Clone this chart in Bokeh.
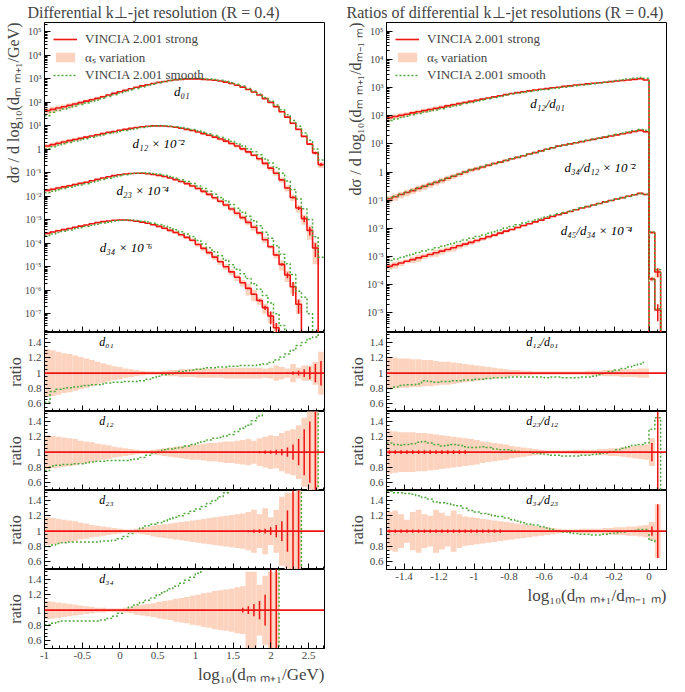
import numpy as np
from bokeh.plotting import figure
from bokeh.layouts import column, row
from bokeh.models import (FixedTicker, Title, Legend, LegendItem, Range1d, Span,
                          CustomJSTickFormatter)
from bokeh.core.properties import value
from bokeh.embed import file_html
from bokeh.resources import INLINE

FONT = "Liberation Serif"
RED = "#f01414"
GREEN = "#4fa83a"
PINK = "#fcd3be"

# ---------------- binning ----------------
left_edges = np.linspace(-1.0, 2.7, 51)     # log10(d_{m m+1}/GeV)
right_edges = np.linspace(-1.5, 0.1, 49)    # log10(d_{m m+1}/d_{m-1 m})

# ---------------- left: differential distributions (log10 of value, strong) ----------------
left_d01_log = [1.64, 1.70, 1.76, 1.81, 1.87, 1.93, 1.99, 2.05, 2.11, 2.17,
                2.24, 2.31, 2.38, 2.45, 2.51, 2.58, 2.64, 2.70, 2.75, 2.80,
                2.85, 2.89, 2.93, 2.96, 2.98, 3.00, 3.00, 3.00, 2.98, 2.96,
                2.94, 2.91, 2.86, 2.80, 2.73, 2.65, 2.55, 2.44, 2.31, 2.16,
                2.00, 1.82, 1.60, 1.37, 1.11, 0.85, 0.55, 0.22, -0.15, -0.65]
left_d12_log = [0.14, 0.20, 0.26, 0.31, 0.37, 0.42, 0.47, 0.52, 0.57, 0.62,
                0.67, 0.72, 0.76, 0.81, 0.85, 0.89, 0.93, 0.96, 0.98, 1.00,
                1.00, 0.99, 0.97, 0.94, 0.90, 0.85, 0.80, 0.74, 0.67, 0.60,
                0.52, 0.44, 0.35, 0.25, 0.14, 0.02, -0.11, -0.25, -0.40, -0.60,
                -0.80, -1.02, -1.30, -1.65, -2.05, -2.50, -2.95, -3.45, -4.20, None]
left_d23_log = [-1.75, -1.70, -1.65, -1.60, -1.55, -1.50, -1.45, -1.40, -1.34, -1.28,
                -1.22, -1.17, -1.12, -1.08, -1.05, -1.03, -1.02, -1.02, -1.04, -1.07,
                -1.11, -1.16, -1.22, -1.29, -1.37, -1.46, -1.56, -1.67, -1.79, -1.92,
                -2.06, -2.21, -2.37, -2.54, -2.72, -2.91, -3.11, -3.32, -3.56, -3.85,
                -4.15, -4.50, -4.90, -5.35, -5.85, -6.60, None, None, None, None]
left_d34_log = [-3.58, -3.52, -3.47, -3.42, -3.37, -3.32, -3.27, -3.22, -3.17, -3.12,
                -3.08, -3.05, -3.02, -3.01, -3.01, -3.03, -3.06, -3.10, -3.15, -3.21,
                -3.28, -3.36, -3.45, -3.54, -3.64, -3.75, -3.87, -4.05, -4.22, -4.40,
                -4.59, -4.79, -5.00, -5.22, -5.45, -5.68, -5.92, -6.17, -6.44, -6.74,
                -7.10, -7.60, None, None, None, None, None, None, None, None]

# smooth / strong ratios (left)
left_r_d01 = [0.62, 0.76, 0.79, 0.80, 0.81, 0.82, 0.83, 0.84, 0.85, 0.85,
              0.86, 0.87, 0.88, 0.88, 0.89, 0.89, 0.89, 0.90, 0.92, 0.94,
              0.96, 0.98, 0.99, 1.01, 1.02, 1.03, 1.04, 1.05, 1.06, 1.07,
              1.07, 1.08, 1.08, 1.09, 1.09, 1.10, 1.10, 1.10, 1.11, 1.12,
              1.14, 1.17, 1.21, 1.25, 1.30, 1.36, 1.40, 1.45, 1.47, 1.58]
left_r_d12 = [0.76, 0.82, 0.83, 0.84, 0.84, 0.85, 0.85, 0.86, 0.87, 0.88,
              0.88, 0.89, 0.89, 0.89, 0.89, 0.90, 0.91, 0.93, 0.96, 0.99,
              1.01, 1.03, 1.04, 1.05, 1.06, 1.08, 1.10, 1.12, 1.14, 1.16,
              1.18, 1.19, 1.21, 1.23, 1.27, 1.31, 1.35, 1.41, 1.47, 1.55,
              1.65, 1.75, 1.90, 2.00, 2.20, 2.40, 2.60, 2.90, 3.00, 0.0]
left_r_d23 = [0.80, 0.82, 0.84, 0.85, 0.86, 0.86, 0.86, 0.86, 0.86, 0.86,
              0.87, 0.87, 0.88, 0.90, 0.93, 0.97, 1.00, 1.04, 1.07, 1.09,
              1.11, 1.13, 1.16, 1.18, 1.20, 1.23, 1.26, 1.29, 1.32, 1.36,
              1.40, 1.45, 1.50, 1.56, 1.62, 1.70, 1.80, 1.90, 2.00, 2.10,
              2.30, 2.50, 2.70, 3.00, 3.30, 3.60, 0.0, None, None, None]
left_r_d34 = [0.81, 0.83, 0.85, 0.86, 0.86, 0.86, 0.86, 0.86, 0.86, 0.86,
              0.87, 0.89, 0.92, 0.96, 1.00, 1.04, 1.07, 1.10, 1.13, 1.16,
              1.20, 1.24, 1.28, 1.31, 1.35, 1.39, 1.43, 1.48, 1.54, 1.60,
              1.70, 1.80, 1.90, 2.00, 2.20, 2.40, 2.60, 2.80, 3.00, 3.30,
              3.60, 4.00, 0.0, None, None, None, None, None, None, None]

# smooth values (log10) where strong is empty: (first bin, values)
left_d12_smooth_tail = (49, [-4.60])
left_d23_smooth_tail = (46, [-6.30, -7.00])
left_d34_smooth_tail = (42, [-7.50, -7.80])

# alpha_s variation half-widths (relative)
left_hw_d01 = [0.31, 0.30, 0.28, 0.26, 0.25, 0.23, 0.21, 0.19, 0.17, 0.15,
               0.13, 0.11, 0.09, 0.08, 0.06, 0.05, 0.04, 0.03, 0.02, 0.02,
               0.02, 0.03, 0.04, 0.04, 0.05, 0.05, 0.05, 0.06, 0.06, 0.06,
               0.06, 0.06, 0.07, 0.07, 0.07, 0.07, 0.07, 0.07, 0.07, 0.06,
               0.07, 0.10, 0.08, 0.06, 0.12, 0.07, 0.10, 0.10, 0.15, 0.28]
left_hw_d12 = [0.22, 0.21, 0.20, 0.19, 0.18, 0.17, 0.15, 0.14, 0.13, 0.11,
               0.10, 0.09, 0.07, 0.06, 0.05, 0.04, 0.03, 0.02, 0.02, 0.03,
               0.04, 0.05, 0.06, 0.07, 0.08, 0.09, 0.10, 0.10, 0.11, 0.12,
               0.12, 0.13, 0.14, 0.14, 0.15, 0.16, 0.17, 0.15, 0.18, 0.20,
               0.22, 0.21, 0.25, 0.28, 0.30, 0.35, 0.45, 0.60, 0.80, None]
left_hw_d23 = [0.18, 0.17, 0.16, 0.15, 0.14, 0.13, 0.11, 0.10, 0.08, 0.07,
               0.06, 0.05, 0.04, 0.03, 0.02, 0.02, 0.03, 0.04, 0.05, 0.07,
               0.08, 0.09, 0.10, 0.11, 0.12, 0.13, 0.14, 0.15, 0.16, 0.17,
               0.18, 0.19, 0.20, 0.21, 0.22, 0.23, 0.25, 0.28, 0.22, 0.30,
               0.18, 0.28, 0.45, 0.50, 0.50, 0.60, None, None, None, None]
left_hw_d34 = [0.12, 0.11, 0.10, 0.09, 0.08, 0.07, 0.06, 0.05, 0.04, 0.03,
               0.03, 0.02, 0.02, 0.02, 0.03, 0.04, 0.06, 0.07, 0.08, 0.09,
               0.11, 0.12, 0.13, 0.15, 0.16, 0.17, 0.19, 0.20, 0.22, 0.23,
               0.25, 0.26, 0.27, 0.28, 0.30, 0.31, 0.50, 0.50, 0.33, 0.45,
               0.50, 0.50, None, None, None, None, None, None, None, None]

# statistical errors (relative)
left_err_d01 = [0, 0, 0, 0, 0, 0, 0, 0, 0, 0,
                0, 0, 0, 0, 0, 0, 0, 0, 0, 0,
                0, 0, 0, 0, 0, 0, 0, 0, 0, 0,
                0, 0, 0, 0, 0, 0, 0, 0, 0, 0,
                0, 0, 0, 0.01, 0.02, 0.03, 0.05, 0.08, 0.12, 0.16]
left_err_d12 = [0, 0, 0, 0, 0, 0, 0, 0, 0, 0,
                0, 0, 0, 0, 0, 0, 0, 0, 0, 0,
                0, 0, 0, 0, 0, 0, 0, 0, 0, 0,
                0, 0, 0, 0, 0, 0, 0.01, 0.01, 0.015, 0.02,
                0.02, 0.03, 0.04, 0.06, 0.10, 0.17, 0.30, 0.40, 0.60, None]
left_err_d23 = [0, 0, 0, 0, 0, 0, 0, 0, 0, 0,
                0, 0, 0, 0, 0, 0, 0, 0, 0, 0,
                0, 0, 0, 0, 0, 0, 0, 0, 0, 0,
                0, 0, 0, 0, 0, 0.01, 0.015, 0.02, 0.025, 0.03,
                0.05, 0.08, 0.13, 0.27, 0.60, 0.60, None, None, None, None]
left_err_d34 = [0, 0, 0, 0, 0, 0, 0, 0, 0, 0,
                0, 0, 0, 0, 0, 0, 0, 0, 0, 0,
                0, 0, 0, 0, 0, 0, 0, 0, 0, 0,
                0, 0, 0, 0, 0, 0.03, 0.05, 0.08, 0.12, 0.20,
                0.55, 0.60, None, None, None, None, None, None, None, None]

# ---------------- right: ratios of resolutions (log10 of value, strong) ----------------
right_d12_d01_log = [1.93, 1.97, 2.01, 2.05, 2.10, 2.14, 2.18, 2.22, 2.26, 2.30,
                     2.35, 2.39, 2.43, 2.47, 2.51, 2.55, 2.59, 2.63, 2.67, 2.71,
                     2.75, 2.79, 2.82, 2.85, 2.88, 2.91, 2.94, 2.96, 2.99, 3.01,
                     3.04, 3.06, 3.09, 3.11, 3.13, 3.15, 3.17, 3.19, 3.21, 3.23,
                     3.25, 3.27, 3.29, 3.31, 3.27, None, None, None]
right_d34_d12_log = [-0.95, -0.88, -0.80, -0.73, -0.66, -0.58, -0.51, -0.44, -0.37, -0.30,
                     -0.22, -0.15, -0.08, 0.00, 0.07, 0.12, 0.18, 0.24, 0.30, 0.35,
                     0.41, 0.47, 0.52, 0.58, 0.64, 0.69, 0.75, 0.81, 0.86, 0.92,
                     0.96, 1.00, 1.04, 1.08, 1.12, 1.16, 1.20, 1.24, 1.28, 1.32,
                     1.36, 1.40, 1.44, 1.48, 1.43, -3.80, -4.90, None]
right_d45_d34_log = [-3.35, -3.29, -3.23, -3.17, -3.11, -3.05, -2.99, -2.93, -2.87, -2.81,
                     -2.75, -2.69, -2.62, -2.56, -2.50, -2.43, -2.37, -2.30, -2.24, -2.17,
                     -2.10, -2.04, -1.97, -1.90, -1.84, -1.77, -1.71, -1.64, -1.58, -1.52,
                     -1.46, -1.40, -1.34, -1.28, -1.23, -1.17, -1.12, -1.06, -1.01, -0.96,
                     -0.91, -0.86, -0.81, -0.76, -0.80, -2.15, -3.55, None]

# smooth / strong in the main right panel
right_ms_d34_d12 = [1.06, 1.05, 1.05, 1.04, 1.05, 1.04, 1.04, 1.03, 1.04, 1.03,
                    1.03, 1.02, 1.03, 1.02, 1.02, 1.02, 1.01, 1.02, 1.01, 1.01,
                    1.01, 1.00, 1.01, 1.00, 1.00, 1.00, 0.99, 1.00, 0.99, 0.99,
                    0.99, 1.00, 1.00, 1.01, 1.01, 1.02, 1.02, 1.03, 1.03, 1.04,
                    1.05, 1.06, 1.07, 1.08, 1.12, 1.00, 1.10, None]
right_ms_d45_d34 = [1.60, 1.58, 1.57, 1.56, 1.55, 1.54, 1.52, 1.51, 1.50, 1.48,
                    1.46, 1.45, 1.43, 1.41, 1.40, 1.38, 1.36, 1.34, 1.32, 1.30,
                    1.28, 1.26, 1.24, 1.22, 1.20, 1.17, 1.15, 1.13, 1.10, 1.08,
                    1.06, 1.04, 1.03, 1.02, 1.01, 1.00, 1.00, 1.00, 1.00, 0.99,
                    0.99, 0.99, 1.00, 1.00, 1.02, 1.05, 1.20, None]

# ratio panels (right)
right_r_12_01 = [0.80, 0.82, 0.84, 0.85, 0.85, 0.86, 0.90, 0.89, 0.88, 0.89,
                 0.89, 0.90, 0.90, 0.91, 0.91, 0.92, 0.92, 0.93, 0.94, 0.94,
                 0.94, 0.95, 0.95, 0.95, 0.95, 0.95, 0.95, 0.94, 0.95, 0.95,
                 0.94, 0.94, 0.94, 0.95, 0.95, 0.96, 0.98, 1.00, 1.02, 1.04,
                 1.06, 1.08, 1.10, 1.12, 1.15, None, None, None]
right_r_23_12 = [1.12, 1.10, 1.09, 1.10, 1.11, 1.13, 1.14, 1.12, 1.10, 1.08,
                 1.09, 1.10, 1.09, 1.07, 1.06, 1.06, 1.07, 1.06, 1.04, 1.03,
                 1.03, 1.02, 1.01, 1.00, 1.00, 0.99, 0.98, 0.97, 0.96, 0.96,
                 0.95, 0.95, 0.95, 0.96, 0.96, 0.97, 0.98, 0.99, 1.01, 1.03,
                 1.05, 1.07, 1.09, 1.10, 1.12, 1.30, 1.45, 0.0]
right_r_34_23 = [1.52, 1.50, 1.50, 1.49, 1.48, 1.46, 1.44, 1.42, 1.38, 1.37,
                 1.36, 1.34, 1.33, 1.30, 1.27, 1.25, 1.23, 1.22, 1.20, 1.19,
                 1.17, 1.15, 1.13, 1.11, 1.09, 1.08, 1.06, 1.04, 1.02, 1.00,
                 0.99, 0.98, 0.97, 0.96, 0.96, 0.95, 0.95, 0.96, 0.97, 0.98,
                 0.99, 1.00, 1.01, 1.02, 1.02, 0.88, 0.85, None]

right_hw_12_01 = [0.20, 0.20, 0.19, 0.19, 0.18, 0.18, 0.17, 0.17, 0.16, 0.15,
                  0.15, 0.14, 0.13, 0.12, 0.11, 0.10, 0.09, 0.08, 0.07, 0.06,
                  0.05, 0.04, 0.04, 0.03, 0.03, 0.02, 0.02, 0.02, 0.02, 0.02,
                  0.02, 0.02, 0.02, 0.02, 0.03, 0.03, 0.03, 0.04, 0.04, 0.04,
                  0.05, 0.05, 0.05, 0.06, 0.06, None, None, None]
right_hw_23_12 = [0.28, 0.27, 0.26, 0.26, 0.26, 0.25, 0.25, 0.24, 0.23, 0.22,
                  0.21, 0.20, 0.19, 0.18, 0.17, 0.16, 0.14, 0.13, 0.12, 0.11,
                  0.10, 0.08, 0.07, 0.06, 0.05, 0.04, 0.03, 0.02, 0.02, 0.02,
                  0.02, 0.02, 0.03, 0.03, 0.03, 0.03, 0.04, 0.04, 0.05, 0.05,
                  0.06, 0.07, 0.08, 0.09, 0.10, 0.18, None, None]
right_hw_34_23 = [0.25, 0.27, 0.22, 0.15, 0.25, 0.28, 0.22, 0.20, 0.28, 0.24,
                  0.20, 0.27, 0.22, 0.19, 0.18, 0.17, 0.16, 0.15, 0.14, 0.13,
                  0.12, 0.11, 0.10, 0.09, 0.08, 0.07, 0.06, 0.05, 0.04, 0.03,
                  0.02, 0.02, 0.02, 0.03, 0.03, 0.03, 0.03, 0.04, 0.04, 0.05,
                  0.05, 0.06, 0.06, 0.07, 0.08, 0.12, 0.35, None]

right_err_12_01 = [0, 0, 0, 0, 0, 0, 0, 0, 0, 0,
                   0, 0, 0, 0, 0, 0, 0, 0, 0, 0,
                   0, 0, 0, 0, 0, 0, 0, 0, 0, 0,
                   0, 0, 0, 0, 0, 0, 0, 0, 0, 0,
                   0, 0, 0, 0, 0, None, None, None]
right_err_23_12 = [0.025, 0.025, 0.025, 0.025, 0.025, 0.025, 0.025, 0.025, 0.025, 0.025,
                   0.025, 0.025, 0.025, 0.025, 0, 0, 0, 0, 0, 0,
                   0, 0, 0, 0, 0, 0, 0, 0, 0, 0,
                   0, 0, 0, 0, 0, 0, 0, 0, 0, 0,
                   0, 0, 0, 0, 0, 0.12, 0.60, None]
right_err_34_23 = [0.02, 0.02, 0.02, 0.02, 0.02, 0.02, 0.02, 0.02, 0.02, 0.02,
                   0.02, 0.02, 0.02, 0.02, 0.02, 0.02, 0.02, 0.02, 0.02, 0.02,
                   0, 0, 0, 0, 0, 0, 0, 0, 0, 0,
                   0, 0, 0, 0, 0, 0, 0, 0, 0, 0,
                   0, 0, 0, 0, 0, 0.06, 0.35, None]

# ---------------- texts & ticks ----------------
LEFT_TITLE = "Differential k⊥-jet resolution (R = 0.4)"
RIGHT_TITLE = "Ratios of differential k⊥-jet resolutions (R = 0.4)"
LEFT_YLABEL = "dσ / d log₁₀(dₘ ₘ₊₁/GeV)"
RIGHT_YLABEL = "dσ / d log₁₀(dₘ ₘ₊₁/dₘ₋₁ ₘ)"
LEFT_XLABEL = "log₁₀(dₘ ₘ₊₁/GeV)"
RIGHT_XLABEL = "log₁₀(dₘ ₘ₊₁/dₘ₋₁ ₘ)"
RATIO_LABEL = "ratio"
LEGEND_LABELS = ["VINCIA 2.001 strong", "αₛ variation", "VINCIA 2.001 smooth"]
LEFT_MAIN_TAGS = ["d₀₁", "d₁₂ × 10⁻²", "d₂₃ × 10⁻⁴", "d₃₄ × 10⁻⁶"]
RIGHT_MAIN_TAGS = ["d₁₂/d₀₁", "d₃₄/d₁₂ × 10⁻²", "d₄₅/d₃₄ × 10⁻⁴"]
LEFT_RATIO_TAGS = ["d₀₁", "d₁₂", "d₂₃", "d₃₄"]
RIGHT_RATIO_TAGS = ["d₁₂/d₀₁", "d₂₃/d₁₂", "d₃₄/d₂₃"]

LEFT_MAIN_Y_TICKS = [1e-7, 1e-6, 1e-5, 1e-4, 1e-3, 1e-2, 1e-1, 1.0, 10.0, 1e2, 1e3, 1e4, 1e5]
LEFT_MAIN_Y_LABELS = ["10⁻⁷", "10⁻⁶", "10⁻⁵", "10⁻⁴", "10⁻³", "10⁻²", "10⁻¹", "1",
                      "10¹", "10²", "10³", "10⁴", "10⁵"]
RIGHT_MAIN_Y_TICKS = [1e-5, 1e-4, 1e-3, 1e-2, 1e-1, 1.0, 10.0, 1e2, 1e3, 1e4, 1e5]
RIGHT_MAIN_Y_LABELS = ["10⁻⁵", "10⁻⁴", "10⁻³", "10⁻²", "10⁻¹", "1",
                       "10¹", "10²", "10³", "10⁴", "10⁵"]
LEFT_X_TICKS = [-1.0, -0.5, 0.0, 0.5, 1.0, 1.5, 2.0, 2.5]
LEFT_X_LABELS = ["-1", "-0.5", "0", "0.5", "1", "1.5", "2", "2.5"]
RIGHT_X_TICKS = [-1.4, -1.2, -1.0, -0.8, -0.6, -0.4, -0.2, 0.0]
RIGHT_X_LABELS = ["-1.4", "-1.2", "-1", "-0.8", "-0.6", "-0.4", "-0.2", "0"]
RATIO_Y_TICKS = [0.6, 0.8, 1.0, 1.2, 1.4]
RATIO_Y_LABELS = ["0.6", "0.8", "1", "1.2", "1.4"]

FLOOR = 1e-12


def arr(lst):
    return np.array([np.nan if v is None else v for v in lst], dtype=float)


def fmt(tick_values, tick_labels):
    return CustomJSTickFormatter(args=dict(tv=list(tick_values), tl=list(tick_labels)), code="""
        for (let i = 0; i < tv.length; i++) {
            if (Math.abs(tick - tv[i]) <= 1e-6 * Math.abs(tv[i]) + 1e-12) return tl[i];
        }
        return "";
    """)


def blank():
    return CustomJSTickFormatter(code='return "";')


log_minor = [m * 10.0 ** e for e in range(-9, 6) for m in range(2, 10)]
left_x_minor = [float(v) for v in np.round(np.arange(-1.0, 2.71, 0.1), 3)]
right_x_minor = [float(v) for v in np.round(np.arange(-1.5, 0.101, 0.05), 3)]
ratio_minor = [float(v) for v in np.round(np.arange(0.5, 1.55, 0.05), 3)]

FRAME_W = 280


def make_fig(xr, yr, fh, left, right, ylog=False, show_x=False):
    p = figure(x_range=xr, y_range=yr, y_axis_type="log" if ylog else "linear",
               frame_width=FRAME_W, frame_height=fh, output_backend="svg", toolbar_location=None,
               min_border_left=left, min_border_right=right, min_border_top=0, min_border_bottom=0)
    p.grid.visible = False
    p.outline_line_color = "black"
    p.outline_line_width = 1
    p.background_fill_color = "white"
    p.border_fill_color = "white"
    for ax in (p.xaxis[0], p.yaxis[0]):
        ax.major_tick_in = 6
        ax.major_tick_out = 0
        ax.minor_tick_in = 3
        ax.minor_tick_out = 0
        ax.axis_line_color = "black"
        ax.major_label_text_font = FONT
        ax.major_label_text_font_size = "11px"
        ax.major_label_standoff = 3
    if not show_x:
        p.xaxis[0].formatter = blank()
        p.xaxis[0].major_label_standoff = 0
        p.xaxis[0].major_label_text_font_size = "0px"
    return p


def draw_main(p, edges, logv, sratio, hw, err, tail=None):
    v = 10 ** arr(logv)
    s = v * arr(sratio)
    if tail is not None:
        start, vals = tail
        for k, lv in enumerate(vals):
            s[start + k] = 10 ** lv
    h = arr(hw)
    e = arr(err)
    lo, hi = edges[:-1], edges[1:]
    ok = np.isfinite(v) & np.isfinite(h)
    band = p.quad(left=lo[ok], right=hi[ok], bottom=(v * np.maximum(1 - h, 0.05))[ok],
                  top=(v * (1 + h))[ok], fill_color=PINK, line_color=None)
    vs = np.where(np.isfinite(v) & (v > 0), v, FLOOR)
    strong = p.step(x=edges, y=np.append(vs, vs[-1]), mode="after", line_color=RED, line_width=1.6)
    ss = np.where(np.isfinite(s) & (s > 0), s, FLOOR)
    smooth = p.step(x=edges, y=np.append(ss, ss[-1]), mode="after", line_color=GREEN,
                    line_width=1.5, line_dash="2 2")
    c = 0.5 * (lo + hi)
    m = np.isfinite(v) & np.isfinite(e) & (e >= 0.05)
    p.segment(x0=c[m], y0=(v * np.maximum(1 - e, 0.05))[m], x1=c[m], y1=(v * (1 + e))[m],
              line_color=RED, line_width=1.5)
    return strong, band, smooth


def draw_ratio(p, edges, ratio, hw, err):
    r = arr(ratio)
    h = arr(hw)
    e = arr(err)
    lo, hi = edges[:-1], edges[1:]
    ok = np.isfinite(h)
    p.quad(left=lo[ok], right=hi[ok], bottom=(1 - h)[ok], top=(1 + h)[ok],
           fill_color=PINK, line_color=None)
    p.add_layout(Span(location=1.0, dimension="width", line_color=RED, line_width=1.6))
    c = 0.5 * (lo + hi)
    m = np.isfinite(e) & (e > 0)
    p.segment(x0=c[m], y0=(1 - e)[m], x1=c[m], y1=(1 + e)[m], line_color=RED, line_width=1.5)
    p.step(x=edges, y=np.append(r, r[-1]), mode="after", line_color=GREEN,
           line_width=1.5, line_dash="2 2")


def tag(p, xs, ys, texts, size="13px"):
    p.text(x=xs, y=ys, text=texts, text_font=value(FONT), text_font_style="italic",
           text_font_size=size, text_align="center", text_baseline="middle", text_color="black")


def left_label(p, text, align, size):
    p.add_layout(Title(text=text, align=align, text_font=FONT, text_font_size=size,
                       text_font_style="normal", standoff=2, offset=0), "left")


def add_legend(p, rends):
    strong, band, smooth = rends
    lg = Legend(items=[LegendItem(label=LEGEND_LABELS[0], renderers=[strong]),
                       LegendItem(label=LEGEND_LABELS[1], renderers=[band]),
                       LegendItem(label=LEGEND_LABELS[2], renderers=[smooth])],
                location="top_left", border_line_alpha=0, background_fill_alpha=0,
                label_text_font=FONT, label_text_font_size="13px", glyph_width=24,
                glyph_height=12, label_height=12, spacing=1, padding=3, margin=6,
                label_standoff=8)
    p.add_layout(lg)


def style_title(p, text, offset):
    p.title.text = text
    p.title.align = "left"
    p.title.offset = offset
    p.title.text_font = FONT
    p.title.text_font_size = "16px"
    p.title.text_font_style = "normal"
    p.title.standoff = 3


MAIN_H = 310
RAT_H = 79

# ================= LEFT COLUMN =================
lx = Range1d(-1.0, 2.71)
ly = Range1d(10 ** -7.8, 10 ** 5.4)
LB, RB = 44, 10

lm = make_fig(lx, ly, MAIN_H, LB, RB, ylog=True)
style_title(lm, LEFT_TITLE, -17)
lm.yaxis[0].ticker = FixedTicker(ticks=LEFT_MAIN_Y_TICKS, minor_ticks=log_minor)
lm.yaxis[0].formatter = fmt(LEFT_MAIN_Y_TICKS, LEFT_MAIN_Y_LABELS)
lm.yaxis[0].major_label_text_font_size = "10px"
lm.xaxis[0].ticker = FixedTicker(ticks=LEFT_X_TICKS, minor_ticks=left_x_minor)
left_label(lm, LEFT_YLABEL, "right", "16px")
r0 = draw_main(lm, left_edges, left_d01_log, left_r_d01, left_hw_d01, left_err_d01)
draw_main(lm, left_edges, left_d12_log, left_r_d12, left_hw_d12, left_err_d12, left_d12_smooth_tail)
draw_main(lm, left_edges, left_d23_log, left_r_d23, left_hw_d23, left_err_d23, left_d23_smooth_tail)
draw_main(lm, left_edges, left_d34_log, left_r_d34, left_hw_d34, left_err_d34, left_d34_smooth_tail)
tag(lm, [0.82, 0.51, 0.30, 0.08], [10 ** 2.45, 10 ** 0.26, 10 ** -1.77, 10 ** -4.17], LEFT_MAIN_TAGS)
add_legend(lm, r0)

left_ratio_sets = [(left_r_d01, left_hw_d01, left_err_d01),
                   (left_r_d12, left_hw_d12, left_err_d12),
                   (left_r_d23, left_hw_d23, left_err_d23),
                   (left_r_d34, left_hw_d34, left_err_d34)]
left_figs = [lm]
for i, (rr, hh, ee) in enumerate(left_ratio_sets):
    last = i == len(left_ratio_sets) - 1
    f = make_fig(lx, Range1d(0.5, 1.53), RAT_H, LB, RB, show_x=last)
    f.yaxis[0].ticker = FixedTicker(ticks=RATIO_Y_TICKS, minor_ticks=ratio_minor)
    f.yaxis[0].formatter = fmt(RATIO_Y_TICKS, RATIO_Y_LABELS)
    f.xaxis[0].ticker = FixedTicker(ticks=LEFT_X_TICKS, minor_ticks=left_x_minor)
    if last:
        f.xaxis[0].formatter = fmt(LEFT_X_TICKS, LEFT_X_LABELS)
        f.add_layout(Title(text=LEFT_XLABEL, align="right", text_font=FONT, text_font_size="17px",
                           text_font_style="normal", standoff=2), "below")
    left_label(f, RATIO_LABEL, "center", "16px")
    draw_ratio(f, left_edges, rr, hh, ee)
    tag(f, [-0.18], [1.40], [LEFT_RATIO_TAGS[i]], size="12px")
    left_figs.append(f)

# ================= RIGHT COLUMN =================
rx = Range1d(-1.5, 0.1)
ry = Range1d(10 ** -5.7, 10 ** 5.31)
LB2, RB2 = 52, 3

rm = make_fig(rx, ry, MAIN_H, LB2, RB2, ylog=True)
style_title(rm, RIGHT_TITLE, -40)
rm.yaxis[0].ticker = FixedTicker(ticks=RIGHT_MAIN_Y_TICKS, minor_ticks=log_minor)
rm.yaxis[0].formatter = fmt(RIGHT_MAIN_Y_TICKS, RIGHT_MAIN_Y_LABELS)
rm.yaxis[0].major_label_text_font_size = "10px"
rm.xaxis[0].ticker = FixedTicker(ticks=RIGHT_X_TICKS, minor_ticks=right_x_minor)
left_label(rm, RIGHT_YLABEL, "right", "16px")
q0 = draw_main(rm, right_edges, right_d12_d01_log, right_r_12_01, right_hw_12_01, right_err_12_01)
draw_main(rm, right_edges, right_d34_d12_log, right_ms_d34_d12, right_hw_23_12, right_err_23_12)
draw_main(rm, right_edges, right_d45_d34_log, right_ms_d45_d34, right_hw_34_23, right_err_34_23)
tag(rm, [-0.58, -0.28, -0.30], [10 ** 2.44, 10 ** 0.17, 10 ** -2.09], RIGHT_MAIN_TAGS)
add_legend(rm, q0)

right_ratio_sets = [(right_r_12_01, right_hw_12_01, right_err_12_01),
                    (right_r_23_12, right_hw_23_12, right_err_23_12),
                    (right_r_34_23, right_hw_34_23, right_err_34_23)]
right_figs = [rm]
for i, (rr, hh, ee) in enumerate(right_ratio_sets):
    last = i == len(right_ratio_sets) - 1
    f = make_fig(rx, Range1d(0.5, 1.53), RAT_H, LB2, RB2, show_x=last)
    f.yaxis[0].ticker = FixedTicker(ticks=RATIO_Y_TICKS, minor_ticks=ratio_minor)
    f.yaxis[0].formatter = fmt(RATIO_Y_TICKS, RATIO_Y_LABELS)
    f.xaxis[0].ticker = FixedTicker(ticks=RIGHT_X_TICKS, minor_ticks=right_x_minor)
    if last:
        f.xaxis[0].formatter = fmt(RIGHT_X_TICKS, RIGHT_X_LABELS)
        f.add_layout(Title(text=RIGHT_XLABEL, align="right", text_font=FONT, text_font_size="17px",
                           text_font_style="normal", standoff=2), "below")
    left_label(f, RATIO_LABEL, "center", "16px")
    draw_ratio(f, right_edges, rr, hh, ee)
    tag(f, [-0.61], [1.40], [RIGHT_RATIO_TAGS[i]], size="12px")
    right_figs.append(f)

layout = row(column(*left_figs), column(*right_figs))
open("out.html", "w").write(file_html(layout, INLINE))
